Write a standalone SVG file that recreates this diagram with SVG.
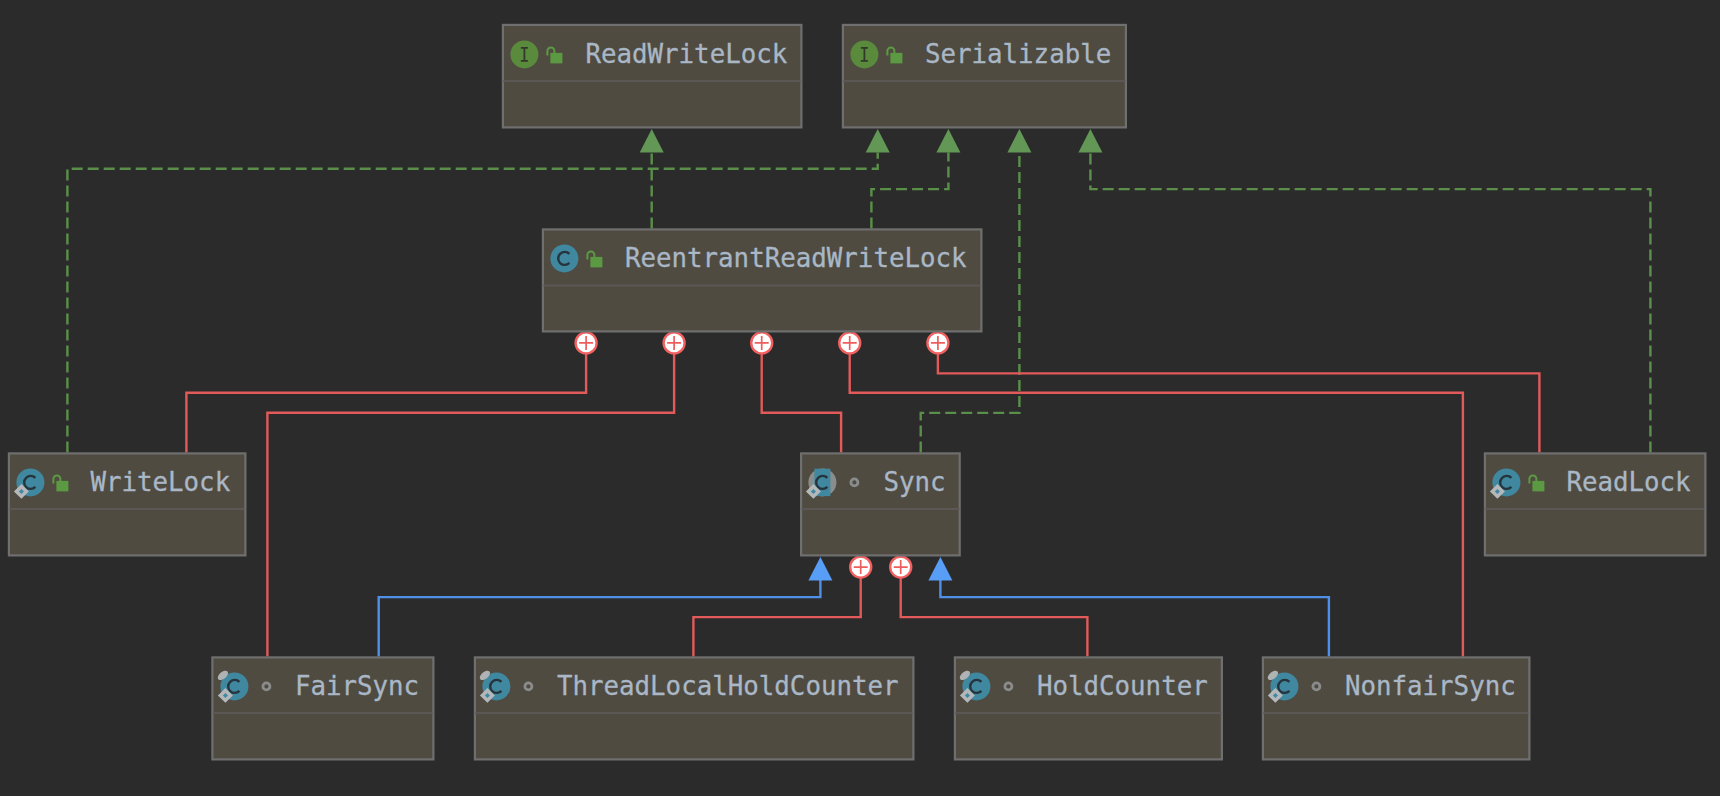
<svg xmlns="http://www.w3.org/2000/svg" width="1720" height="796" viewBox="0 0 1720 796">
<style>
.box{fill:#4f4b41;stroke:#6f6f6f;stroke-width:2.200}
.div{stroke:#5a5755;stroke-width:2;fill:none}
.t{font-family:"DejaVu Sans Mono","Liberation Mono",monospace;font-size:25.8px;fill:#a9b7c6;stroke:#a9b7c6;stroke-width:.3}
.g{fill:none;stroke:#5a8f4a;stroke-width:2.400;stroke-dasharray:11 5}
.r{fill:none;stroke:#e25a5a;stroke-width:2.400}
.b{fill:none;stroke:#4f8fe8;stroke-width:2.400}
.ag{fill:#629755}
.ab{fill:#589df6}
</style>
<defs>
<g id="plus"><circle r="10.500" fill="#fff" stroke="#f26060" stroke-width="2.400"/><path d="M-7 0H7M0-7V7" stroke="#ef5d5d" stroke-width="1.700" fill="none"/></g>
<g id="ia"><path d="M0 0l-12 23.500h24z" class="ag"/></g>
<g id="ib"><path d="M0 0l-12 23.500h24z" class="ab"/></g>
<g id="lock"><rect x="4" y="-1.500" width="12" height="10.500" fill="#5b9a42"/><path d="M1 1v-4.500a3.500 3.500 0 0 1 7 0v2" fill="none" stroke="#5b9a42" stroke-width="2"/></g>
<g id="dot"><circle r="3.500" fill="none" stroke="#8a8c8c" stroke-width="2.800"/></g>
<g id="iface"><circle r="14" fill="#5a8a3c"/><path d="M-3.500-6.500h7M-3.500 6.500h7M0-6.500V6.500" stroke="#33382c" stroke-width="1.800" fill="none"/></g>
<g id="cls"><circle r="14" fill="#40889f"/><path d="M5-4.500A6.500 6.500 0 1 0 5 4.500" fill="none" stroke="#26353d" stroke-width="2.400"/></g>
<g id="dia"><path d="M0-5L5 0 0 5-5 0z" fill="#3f8aa2" stroke="#b4b8ba" stroke-width="3.500"/></g>
<g id="ov"><ellipse rx="6" ry="3.500" transform="rotate(-40)" fill="#afb3b3"/></g>
</defs>
<rect width="1720" height="796" fill="#2b2b2b"/>
<g transform="translate(.4 .4)">
<g id="connectors">
<path class="g" d="M651.300 228V152"/>
<path class="g" d="M67 452V168.300H877.300V152"/>
<path class="g" d="M871 228V188.700H948V152"/>
<path class="g" d="M920.300 452V412.500H1019V152"/>
<path class="g" d="M1650 452V188.700H1090V152"/>
<path class="r" d="M585.700 352V392.300H186V452"/>
<path class="r" d="M673.700 352V412.300H267V656"/>
<path class="r" d="M761.300 352V412.300H840.700V452"/>
<path class="r" d="M849.300 352V392.300H1462.500V656"/>
<path class="r" d="M937.500 352V373H1539V452"/>
<path class="r" d="M860.300 576V616.700H693V656"/>
<path class="r" d="M900.300 576V616.700H1087V656"/>
<path class="b" d="M820 579V596.700H378.300V656"/>
<path class="b" d="M940 579V596.700H1328.500V656"/>
<use href="#ia" x="651.300" y="128.500"/><use href="#ia" x="877.300" y="128.500"/><use href="#ia" x="948" y="128.500"/><use href="#ia" x="1019" y="128.500"/><use href="#ia" x="1090" y="128.500"/>
<use href="#ib" x="820" y="556.500"/><use href="#ib" x="940" y="556.500"/>
<use href="#plus" x="585.700" y="342.500"/><use href="#plus" x="673.700" y="342.500"/><use href="#plus" x="761.300" y="342.500"/><use href="#plus" x="849.300" y="342.500"/><use href="#plus" x="937.500" y="342.500"/>
<use href="#plus" x="860.300" y="566.700"/><use href="#plus" x="900.300" y="566.700"/>
</g>
<g id="ReadWriteLock"><rect class="box" x="502.500" y="24.500" width="298.500" height="102.500"/><path class="div" d="M503 80.700H800"/><use href="#iface" x="524" y="54"/><use href="#lock" x="546" y="54"/><text class="t" x="585" y="62.800">ReadWriteLock</text></g>
<g id="Serializable"><rect class="box" x="842.500" y="24.500" width="283" height="102.500"/><path class="div" d="M843 80.700H1125"/><use href="#iface" x="864" y="54"/><use href="#lock" x="886" y="54"/><text class="t" x="924.500" y="62.800">Serializable</text></g>
<g id="ReentrantReadWriteLock"><rect class="box" x="542.500" y="229" width="438.500" height="102"/><path class="div" d="M543 285H980"/><use href="#cls" x="564" y="258"/><use href="#lock" x="586" y="258"/><text class="t" x="624.500" y="266.800">ReentrantReadWriteLock</text></g>
<g id="WriteLock"><rect class="box" x="8.500" y="453" width="236.500" height="102"/><path class="div" d="M9 508.700H244"/><use href="#cls" x="30" y="482"/><use href="#dia" x="21" y="491"/><use href="#lock" x="52" y="482"/><text class="t" x="90" y="490.800">WriteLock</text></g>
<g id="Sync"><rect class="box" x="800.700" y="453" width="158.600" height="102"/><path class="div" d="M801 508.700H959"/><circle cx="822" cy="482" r="14" fill="#8a8d8d"/><path d="M814 468.300h16v27.400h-16z" fill="#40889f"/><path d="M827 477.500A6.500 6.500 0 1 0 827 486.500" fill="none" stroke="#26353d" stroke-width="2.400"/><use href="#dia" x="813" y="491"/><use href="#dot" x="854" y="482"/><text class="t" x="883" y="490.800">Sync</text></g>
<g id="ReadLock"><rect class="box" x="1484.500" y="453" width="220.500" height="102"/><path class="div" d="M1485 508.700H1704"/><use href="#cls" x="1506" y="482"/><use href="#dia" x="1497" y="491"/><use href="#lock" x="1528" y="482"/><text class="t" x="1566" y="490.800">ReadLock</text></g>
<g id="FairSync"><rect class="box" x="212" y="657" width="221" height="102"/><path class="div" d="M213 712.700H432"/><use href="#cls" x="234" y="686"/><use href="#ov" x="222.500" y="675"/><use href="#dia" x="225" y="695"/><use href="#dot" x="266" y="686"/><text class="t" x="294.500" y="694.800">FairSync</text></g>
<g id="ThreadLocalHoldCounter"><rect class="box" x="474.500" y="657" width="438.500" height="102"/><path class="div" d="M475 712.700H912"/><use href="#cls" x="496" y="686"/><use href="#ov" x="484.500" y="675"/><use href="#dia" x="487" y="695"/><use href="#dot" x="528" y="686"/><text class="t" x="556.500" y="694.800">ThreadLocalHoldCounter</text></g>
<g id="HoldCounter"><rect class="box" x="954.500" y="657" width="267" height="102"/><path class="div" d="M955 712.700H1221"/><use href="#cls" x="976" y="686"/><use href="#ov" x="964.500" y="675"/><use href="#dia" x="967" y="695"/><use href="#dot" x="1008" y="686"/><text class="t" x="1036.500" y="694.800">HoldCounter</text></g>
<g id="NonfairSync"><rect class="box" x="1262.500" y="657" width="266.500" height="102"/><path class="div" d="M1263 712.700H1528"/><use href="#cls" x="1284" y="686"/><use href="#ov" x="1272.500" y="675"/><use href="#dia" x="1275" y="695"/><use href="#dot" x="1316" y="686"/><text class="t" x="1344.500" y="694.800">NonfairSync</text></g>
</g>
</svg>
